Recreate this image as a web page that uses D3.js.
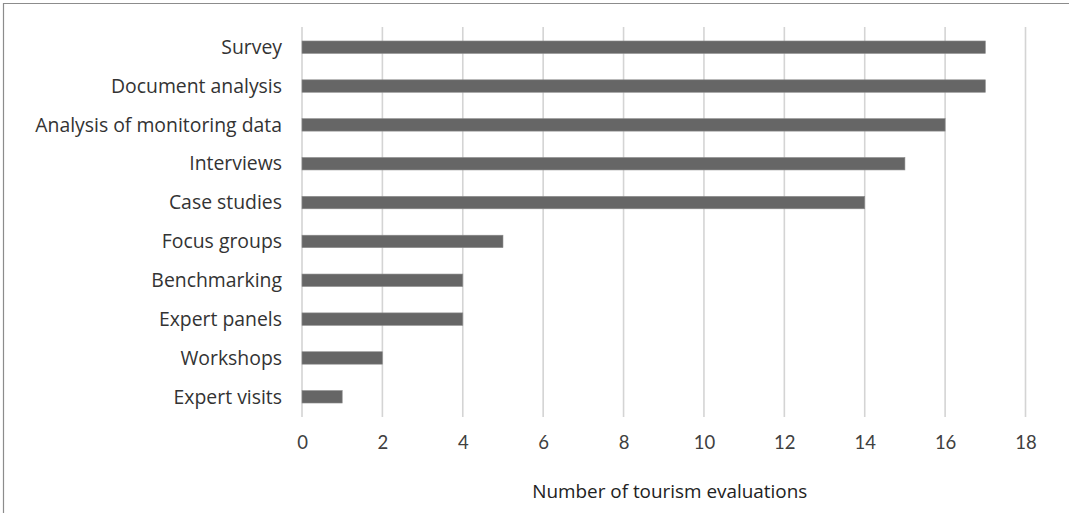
<!DOCTYPE html>
<html>
<head>
<meta charset="utf-8">
<script src="https://cdn.jsdelivr.net/npm/d3@7"></script>
<style>
  html, body { margin: 0; padding: 0; background: #fff; }
  svg { display: block; }
</style>
</head>
<body>
<svg id="chart" width="1069" height="513"></svg>
<script>
// Evaluation methods and how many tourism evaluations used each
const categories = [
  "Survey", "Document analysis", "Analysis of monitoring data", "Interviews",
  "Case studies", "Focus groups", "Benchmarking", "Expert panels",
  "Workshops", "Expert visits"
];
const counts = [17, 17, 16, 15, 14, 5, 4, 4, 2, 1];
const xTicks = [0, 2, 4, 6, 8, 10, 12, 14, 16, 18];
const xTitle = "Number of tourism evaluations";

const svg = d3.select("#chart");
const W = 1069, H = 513;
const plot = { left: 302, right: 1025.5, top: 27, bottom: 417 };

// Frame lines along the top and left edges
svg.append("line").attr("x1", 3).attr("x2", W).attr("y1", 3.5).attr("y2", 3.5)
  .attr("stroke", "#8c8c8c").attr("stroke-width", 1.2);
svg.append("line").attr("x1", 3.5).attr("x2", 3.5).attr("y1", 3).attr("y2", H)
  .attr("stroke", "#8c8c8c").attr("stroke-width", 1.2);

const x = d3.scaleLinear().domain([0, 18]).range([plot.left, plot.right]);
const y = d3.scaleBand().domain(categories).range([plot.top, plot.bottom]).paddingInner(0.68).paddingOuter(0.36);

// Vertical gridlines
svg.append("g").selectAll("line").data(xTicks).join("line")
  .attr("x1", d => x(d)).attr("x2", d => x(d))
  .attr("y1", plot.top).attr("y2", plot.bottom)
  .attr("stroke", "#d4d4d4").attr("stroke-width", 1.6);

// Bars
svg.append("g").selectAll("rect").data(categories).join("rect")
  .attr("x", x(0))
  .attr("y", d => y(d))
  .attr("width", (d, i) => x(counts[i]) - x(0))
  .attr("height", y.bandwidth())
  .attr("fill", "#666666")
  .attr("stroke", "#8a8a8a").attr("stroke-width", 0.6);

// Category labels
const yAxis = d3.axisLeft(y).tickSize(0).tickPadding(20);
svg.append("g").attr("transform", `translate(${plot.left},0.5)`).call(yAxis)
  .call(g => g.select(".domain").remove())
  .selectAll("text")
  .attr("font-family", "'Open Sans', sans-serif")
  .attr("font-size", 19.4)
  .attr("fill", "#333");

// Value axis labels
const xAxis = d3.axisBottom(x).tickValues(xTicks).tickSize(0).tickPadding(19);
svg.append("g").attr("transform", `translate(0,${plot.bottom})`).call(xAxis)
  .call(g => g.select(".domain").remove())
  .selectAll("text")
  .attr("font-family", "Lato, sans-serif")
  .attr("font-size", 18.5)
  .attr("fill", "#404040");

// Axis title
svg.append("text")
  .attr("x", (plot.left + plot.right) / 2 + 6)
  .attr("y", 497.5)
  .attr("text-anchor", "middle")
  .attr("font-family", "'Open Sans', sans-serif")
  .attr("font-size", 18.9)
  .attr("fill", "#222")
  .text(xTitle);
</script>
</body>
</html>
